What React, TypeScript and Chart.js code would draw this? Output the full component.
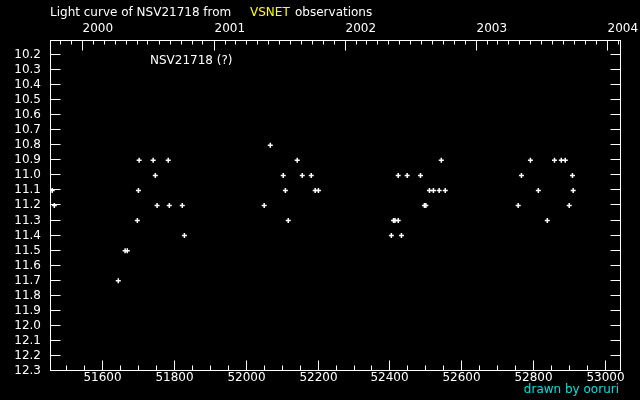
import React, { useEffect, useRef } from "react";
import { Chart, registerables } from "chart.js";

Chart.register(...registerables);

// Julian Date - 2400000
const jd = [
  51460, 51466,
  51644, 51663, 51669, 51697, 51700, 51702, 51741, 51747, 51752, 51783, 51786, 51822, 51828,
  52050, 52067, 52103, 52109, 52117, 52142, 52156, 52181, 52192, 52201,
  52404, 52410, 52414, 52423, 52423, 52432, 52448, 52485, 52496, 52500, 52510, 52521, 52537, 52543, 52554,
  52757, 52766, 52791, 52813, 52838, 52858, 52877, 52888, 52899, 52908, 52910,
];
const mag = [
  11.1, 11.2,
  11.7, 11.5, 11.5, 11.3, 11.1, 10.9, 10.9, 11.0, 11.2, 10.9, 11.2, 11.2, 11.4,
  11.2, 10.8, 11.0, 11.1, 11.3, 10.9, 11.0, 11.0, 11.1, 11.1,
  11.4, 11.3, 11.3, 11.3, 11.0, 11.4, 11.0, 11.0, 11.2, 11.2, 11.1, 11.1, 11.1, 10.9, 11.1,
  11.2, 11.0, 10.9, 11.1, 11.3, 10.9, 10.9, 10.9, 11.2, 11.0, 11.1,
];

const jdTicks = [51600, 51800, 52000, 52200, 52400, 52600, 52800, 53000];
const yearLabels = ["2000", "2001", "2002", "2003", "2004"];
const magTicks = [
  10.2, 10.3, 10.4, 10.5, 10.6, 10.7, 10.8, 10.9, 11.0, 11.1, 11.2,
  11.3, 11.4, 11.5, 11.6, 11.7, 11.8, 11.9, 12.0, 12.1, 12.2, 12.3,
];

const X_MIN = 51453.9;
const X_MAX = 53043.1;
const Y_MIN = 10.1;
const Y_MAX = 12.3;
const FONT = "DejaVu Sans";

const toJD = (y: number, m: number) => Date.UTC(y, m, 1) / 86400000 + 40587.5;

export default function App() {
  const ref = useRef<HTMLCanvasElement>(null);

  useEffect(() => {
    if (!ref.current) return;
    const yearJD = yearLabels.map((y) => toJD(Number(y), 0));
    const monthJD: number[] = [];
    for (let y = 1999; y <= 2004; y++) for (let m = 0; m < 12; m++) monthJD.push(toJD(y, m));
    const minorJD: number[] = [];
    for (let v = 51300; v <= 53100; v += 50) minorJD.push(v);

    const frame = {
      id: "frame",
      afterDraw(chart: any) {
        const { ctx, chartArea: a, scales } = chart;
        ctx.save();
        ctx.strokeStyle = "#ffffff";
        ctx.lineWidth = 1;
        const L = a.left + 0.5, R = a.right - 0.5, T = a.top + 0.5, B = a.bottom - 0.5;
        ctx.strokeRect(L, T, R - L, B - T);
        ctx.beginPath();
        const col = (p: number) => Math.floor(p) + 0.5;
        const row = (p: number) => Math.floor(p - 0.5) + 0.5;
        // bottom ticks
        for (const v of minorJD) {
          if (v <= X_MIN || v >= X_MAX) continue;
          const x = col(scales.x.getPixelForValue(v));
          const len = v % 200 === 0 ? 10 : 5;
          ctx.moveTo(x, B);
          ctx.lineTo(x, B - len);
        }
        // top ticks
        for (const v of monthJD) {
          if (v <= X_MIN || v >= X_MAX) continue;
          const x = col(scales.x2.getPixelForValue(v));
          const len = yearJD.some((yv) => Math.abs(yv - v) < 0.01) ? 10 : 4;
          ctx.moveTo(x, T);
          ctx.lineTo(x, T + len);
        }
        // left/right ticks
        for (const v of magTicks) {
          const y = row(scales.y.getPixelForValue(v));
          ctx.moveTo(L, y);
          ctx.lineTo(L + 10, y);
          ctx.moveTo(R, y);
          ctx.lineTo(R - 10, y);
        }
        ctx.stroke();

        ctx.font = `12px "${FONT}"`;
        ctx.textBaseline = "middle";
        ctx.fillStyle = "#ffffff";
        // y tick labels
        ctx.textAlign = "right";
        for (const v of magTicks) {
          const y = row(scales.y.getPixelForValue(v));
          ctx.fillText(v.toFixed(1), 41, y + 0.5);
        }
        // bottom tick labels
        ctx.textAlign = "center";
        for (const v of jdTicks) {
          const x = col(scales.x.getPixelForValue(v));
          ctx.fillText(String(v), x, B + 7.5);
        }
        // top year labels
        ctx.textAlign = "left";
        yearJD.forEach((v, i) => {
          const x = col(scales.x2.getPixelForValue(v));
          ctx.fillText(yearLabels[i], x, T - 12);
        });

        ctx.fillText("Light curve of NSV21718 from", 50, 12.5);
        ctx.fillStyle = "#ffff00";
        ctx.fillText("VSNET", 250, 12.5);
        ctx.fillStyle = "#ffffff";
        ctx.fillText("observations", 295, 12.5);
        ctx.fillText("NSV21718 (?)", 150, 60.5);
        ctx.fillStyle = "#00e0e0";
        ctx.textAlign = "right";
        ctx.fillText("drawn by ooruri", 619, 390);
        ctx.restore();
      },
    };

    const hidden = { display: false };
    const chart = new Chart(ref.current, {
      type: "scatter",
      data: {
        datasets: [
          {
            data: jd.map((x, i) => ({ x, y: mag[i] })),
            pointStyle: "cross",
            radius: 2.5,
            hoverRadius: 2.5,
            borderColor: "#ffffff",
            backgroundColor: "#ffffff",
            borderWidth: 1.5,
            xAxisID: "x",
            yAxisID: "y",
          },
        ],
      },
      options: {
        animation: false,
        responsive: false,
        events: [],
        layout: { padding: 0 },
        plugins: { legend: { display: false }, tooltip: { enabled: false } },
        scales: {
          x: {
            type: "linear",
            position: "bottom",
            min: X_MIN,
            max: X_MAX,
            grid: hidden,
            border: hidden,
            ticks: hidden,
            afterFit: (s: any) => {
              s.height = 29;
            },
          },
          x2: {
            type: "linear",
            position: "top",
            min: X_MIN,
            max: X_MAX,
            grid: hidden,
            border: hidden,
            ticks: hidden,
            afterFit: (s: any) => {
              s.height = 40;
            },
          },
          y: {
            type: "linear",
            position: "left",
            reverse: true,
            min: Y_MIN,
            max: Y_MAX,
            grid: hidden,
            border: hidden,
            ticks: hidden,
            afterFit: (s: any) => {
              s.width = 50;
            },
          },
          y2: {
            type: "linear",
            position: "right",
            reverse: true,
            min: Y_MIN,
            max: Y_MAX,
            grid: hidden,
            border: hidden,
            ticks: hidden,
            afterFit: (s: any) => {
              s.width = 19;
            },
          },
        },
      } as any,
      plugins: [frame],
    });
    return () => chart.destroy();
  }, []);

  return (
    <div style={{ position: "fixed", left: 0, top: 0, width: 640, height: 400, background: "#000" }}>
      <canvas ref={ref} width={640} height={400} style={{ display: "block", background: "#000" }} />
    </div>
  );
}
